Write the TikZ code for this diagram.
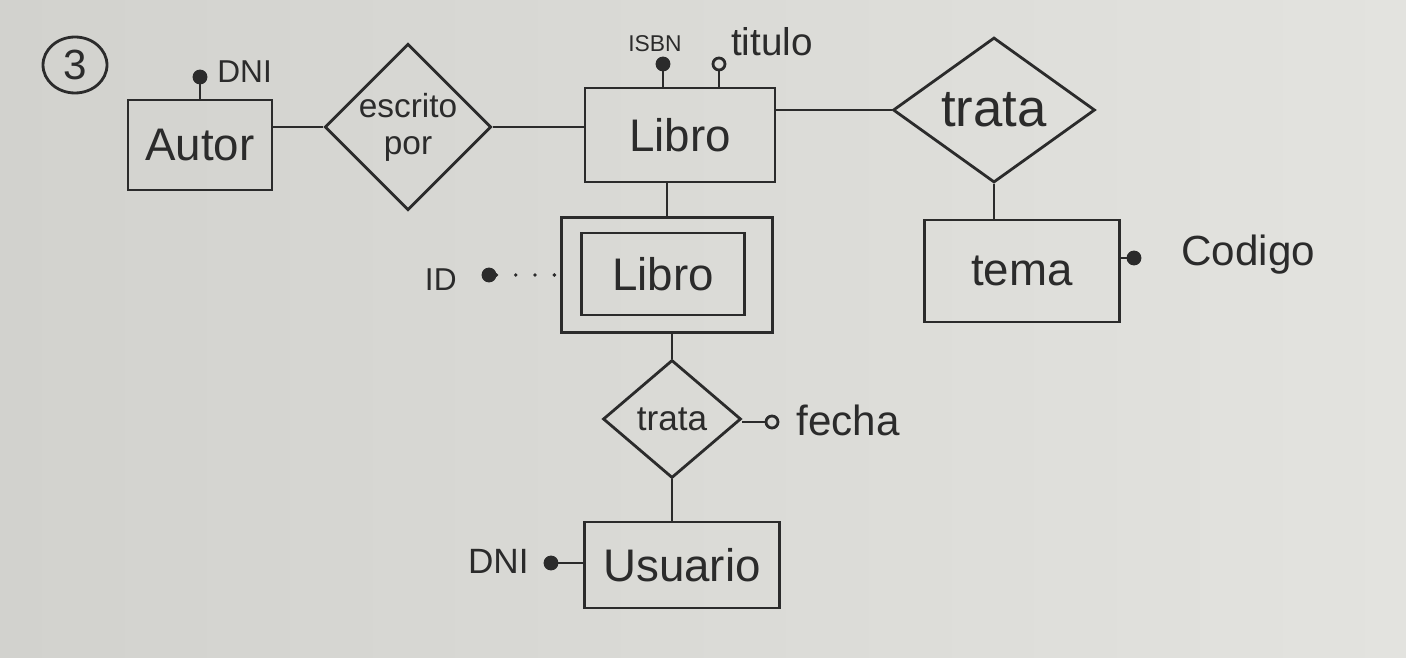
\documentclass[tikz,border=0pt]{standalone}
\usepackage{fontspec}
\setmainfont{Liberation Sans}
\usetikzlibrary{shapes.geometric}
\definecolor{paperL}{HTML}{D2D2CE}
\definecolor{paperR}{HTML}{E3E3DF}
\definecolor{ink}{HTML}{2B2B2B}
\begin{document}
\begin{tikzpicture}[x=0.02cm,y=-0.02cm,line width=1.6pt,color=ink,
  entity/.style={draw,rectangle,inner sep=0pt,font=\fontsize{26}{30}\selectfont},
  rel/.style={draw,diamond,inner sep=0pt,align=center},
  keyattr/.style={circle,draw,fill=ink,inner sep=0pt,minimum size=0.24cm},
  plainattr/.style={circle,draw,inner sep=0pt,minimum size=0.24cm},
  lbl/.style={inner sep=0pt}]
\shade[left color=paperL,right color=paperR] (0,0) rectangle (1406,658);
\useasboundingbox (0,0) rectangle (1406,658);

% number
\node[ellipse,draw,minimum width=1.28cm,minimum height=1.12cm,inner sep=0pt,font=\fontsize{24}{28}\selectfont] (three) at (75,65) {3};

% Autor
\node[entity,minimum width=2.88cm,minimum height=1.8cm] (autor) at (200,145) {Autor};
\node[keyattr] (autordni) at (200,77) {};
\node[lbl,anchor=west,font=\fontsize{18}{20}\selectfont] (autordnil) at (216,72) {DNI};
\draw (autordni) -- (autor.north -| autordni);

% escrito por
\node[rel,minimum width=3.14cm,minimum height=2.7cm,font=\fontsize{19}{21}\selectfont] (escrito) at (408,127) {escrito\\por};
\draw (autor.east |- escrito.west) -- (escrito.west);

% Libro
\node[entity,minimum width=3.8cm,minimum height=1.88cm] (libro) at (680,135) {Libro};
\draw (escrito.east) -- (libro.west |- escrito.east);
\node[keyattr] (isbn) at (663,64) {};
\node[plainattr] (titulo) at (719,64) {};
\node[lbl,font=\fontsize{13}{15}\selectfont] (isbnl) at (655,44) {ISBN};
\node[lbl,font=\fontsize{22}{24}\selectfont] (titulol) at (772,42) {titulo};
\draw (isbn) -- (libro.north -| isbn);
\draw (titulo) -- (libro.north -| titulo);

% trata (top)
\node[rel,minimum width=4.04cm,minimum height=2.9cm,font=\fontsize{30}{34}\selectfont] (trata) at (994,110) {trata};
\draw (libro.east |- trata.west) -- (trata.west);

% tema
\node[entity,minimum width=3.9cm,minimum height=2.04cm] (tema) at (1022,271) {tema};
\draw (trata.south) -- (tema.north -| trata.south);
\node[keyattr] (codigo) at (1134,258) {};
\node[lbl,anchor=west,font=\fontsize{24}{28}\selectfont] (codigol) at (1180,255) {Codigo};
\draw (tema.east |- codigo) -- (codigo);

% weak entity Libro
\node[draw,rectangle,minimum width=4.22cm,minimum height=2.3cm] (weak) at (667,275) {};
\node[entity,minimum width=3.26cm,minimum height=1.64cm] (weakin) at (663,274) {Libro};
\draw (libro.south -| weak.north) -- (weak.north);
\node[keyattr] (iddot) at (489,275) {};
\node[lbl,anchor=east,font=\fontsize{18}{20}\selectfont] (idl) at (458,280) {ID};
\draw[line width=2.2pt,dash pattern=on 0pt off 11pt,line cap=round] (iddot) -- (weak.west |- iddot);

% trata (bottom)
\node[rel,minimum width=2.76cm,minimum height=2.36cm,font=\fontsize{20}{24}\selectfont] (trata2) at (672,419) {trata};
\draw (weak.south -| trata2.north) -- (trata2.north);
\node[plainattr] (fecha) at (772,422) {};
\node[lbl,anchor=west,font=\fontsize{24}{28}\selectfont] (fechal) at (795,420) {fecha};
\draw (trata2.east |- fecha) -- (fecha);

% Usuario
\node[entity,minimum width=3.9cm,minimum height=1.72cm] (usuario) at (682,565) {Usuario};
\draw (trata2.south) -- (usuario.north -| trata2.south);
\node[keyattr] (udni) at (551,563) {};
\node[lbl,anchor=east,font=\fontsize{20}{22}\selectfont] (udnil) at (530,561) {DNI};
\draw (udni) -- (usuario.west |- udni);
\end{tikzpicture}
\end{document}
